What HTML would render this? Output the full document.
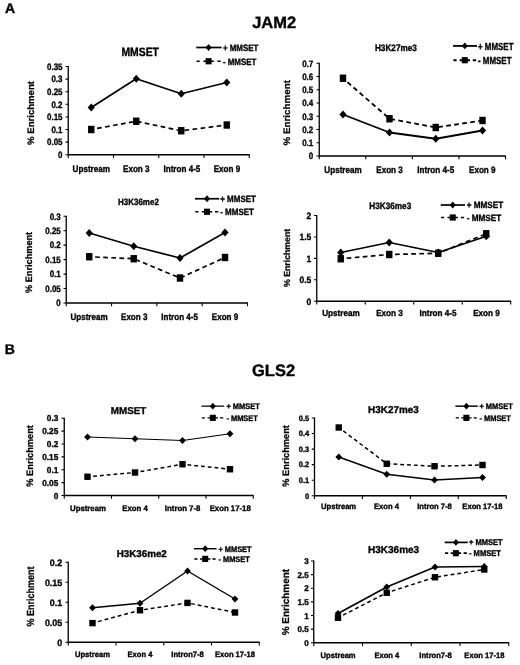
<!DOCTYPE html>
<html lang="en">
<head>
<meta charset="utf-8">
<title>Figure: JAM2 and GLS2 enrichment</title>
<style>
html,body{margin:0;padding:0;background:#fff;}
body{width:520px;height:665px;overflow:hidden;}
svg{display:block;opacity:.999;will-change:transform;}
.t{font-family:"Liberation Sans", Arial, Helvetica, sans-serif;font-weight:bold;fill:#000;text-rendering:geometricPrecision;stroke:#000;stroke-width:.35px;stroke-linejoin:round;}
.y{stroke-width:.25px;}
.ax{fill:none;stroke:#000;stroke-width:1.3;}
.tk{fill:none;stroke:#000;stroke-width:1.1;}
.ln{fill:none;stroke:#000;stroke-linejoin:round;}
</style>
</head>
<body>
<svg width="520" height="665" viewBox="0 0 520 665">
<rect width="520" height="665" fill="#fff"/>
<text class="t" font-size="14" x="4.9" y="12.5">A</text>
<text class="t" font-size="14" x="4.8" y="353.9">B</text>
<text class="t" font-size="16.5" x="252.2" y="28.1">JAM2</text>
<text class="t" font-size="16.5" x="252.0" y="376.2">GLS2</text>
<g id="c1">
<path class="ax" d="M68.25,66.1 V154.75 H249.65"/>
<path class="tk" d="M65.50,154.75 H68.25 M65.50,142.14 H68.25 M65.50,129.54 H68.25 M65.50,116.93 H68.25 M65.50,104.32 H68.25 M65.50,91.71 H68.25 M65.50,79.11 H68.25 M65.50,66.50 H68.25 M68.25,154.75 V158.05 M113.50,154.75 V158.05 M158.75,154.75 V158.05 M204.00,154.75 V158.05 M249.25,154.75 V158.05"/>
<text class="t" font-size="9.24" text-anchor="end" transform="translate(62.50,158.06) scale(0.86,1)">0</text>
<text class="t" font-size="9.24" text-anchor="end" transform="translate(62.50,145.45) scale(0.86,1)">0.05</text>
<text class="t" font-size="9.24" text-anchor="end" transform="translate(62.50,132.85) scale(0.86,1)">0.1</text>
<text class="t" font-size="9.24" text-anchor="end" transform="translate(62.50,120.24) scale(0.86,1)">0.15</text>
<text class="t" font-size="9.24" text-anchor="end" transform="translate(62.50,107.63) scale(0.86,1)">0.2</text>
<text class="t" font-size="9.24" text-anchor="end" transform="translate(62.50,95.02) scale(0.86,1)">0.25</text>
<text class="t" font-size="9.24" text-anchor="end" transform="translate(62.50,82.42) scale(0.86,1)">0.3</text>
<text class="t" font-size="9.24" text-anchor="end" transform="translate(62.50,69.81) scale(0.86,1)">0.35</text>
<text class="t y" font-size="9.4" text-anchor="middle" transform="translate(34.37,113) rotate(-90) scale(1.021,1)">% Enrichment</text>
<text class="t" font-size="9.42" text-anchor="middle" transform="translate(91.25,172.00) scale(0.86,1)">Upstream</text>
<text class="t" font-size="9.42" text-anchor="middle" transform="translate(136.25,172.00) scale(0.86,1)">Exon 3</text>
<text class="t" font-size="9.42" text-anchor="middle" transform="translate(181.90,172.00) scale(0.86,1)">Intron 4-5</text>
<text class="t" font-size="9.42" text-anchor="middle" transform="translate(226.90,172.00) scale(0.86,1)">Exon 9</text>
<text class="t" font-size="11.95" text-anchor="middle" transform="translate(140.20,55.70) scale(0.87,1)">MMSET</text>
<polyline class="ln" stroke-width="1.7" stroke-dasharray="4.7 3.4" stroke-dashoffset="2.2" points="91.25,129.5 136.25,121.25 181.25,130.75 226.75,125"/>
<polyline class="ln" stroke-width="1.7" points="91.25,107.5 136.25,78.75 181.25,93.75 226.75,82.5"/>
<rect x="88.05" y="125.80" width="6.4" height="7.4"/>
<rect x="133.05" y="117.55" width="6.4" height="7.4"/>
<rect x="178.05" y="127.05" width="6.4" height="7.4"/>
<rect x="223.55" y="121.30" width="6.4" height="7.4"/>
<polygon points="91.25,103.40 94.85,107.50 91.25,111.60 87.65,107.50"/>
<polygon points="136.25,74.65 139.85,78.75 136.25,82.85 132.65,78.75"/>
<polygon points="181.25,89.65 184.85,93.75 181.25,97.85 177.65,93.75"/>
<polygon points="226.75,78.40 230.35,82.50 226.75,86.60 223.15,82.50"/>
<path class="ln" stroke-width="1.7" d="M196.25,47.5 H221.6"/>
<path class="ln" stroke-width="1.7" d="M196.55,61.25 h3.2 M203.40,61.25 h10.4 M217.40,61.25 h3.3"/>
<polygon points="208.60,44.10 211.60,47.50 208.60,50.90 205.60,47.50"/>
<rect x="205.60" y="58.15" width="6.0" height="6.2"/>
<text class="t" font-size="9.24" text-anchor="start" transform="translate(222.90,50.81) scale(0.86,1)">+ MMSET</text>
<text class="t" font-size="9.24" text-anchor="start" transform="translate(222.90,64.56) scale(0.86,1)">- MMSET</text>
</g>
<g id="c2">
<path class="ax" d="M319.25,62.85 V156 H505.9"/>
<path class="tk" d="M316.50,156.00 H319.25 M316.50,142.75 H319.25 M316.50,129.50 H319.25 M316.50,116.25 H319.25 M316.50,103.00 H319.25 M316.50,89.75 H319.25 M316.50,76.50 H319.25 M316.50,63.25 H319.25 M319.25,156.00 V159.30 M365.81,156.00 V159.30 M412.38,156.00 V159.30 M458.94,156.00 V159.30 M505.50,156.00 V159.30"/>
<text class="t" font-size="9.24" text-anchor="end" transform="translate(313.25,159.31) scale(0.86,1)">0</text>
<text class="t" font-size="9.24" text-anchor="end" transform="translate(313.25,146.06) scale(0.86,1)">0.1</text>
<text class="t" font-size="9.24" text-anchor="end" transform="translate(313.25,132.81) scale(0.86,1)">0.2</text>
<text class="t" font-size="9.24" text-anchor="end" transform="translate(313.25,119.56) scale(0.86,1)">0.3</text>
<text class="t" font-size="9.24" text-anchor="end" transform="translate(313.25,106.31) scale(0.86,1)">0.4</text>
<text class="t" font-size="9.24" text-anchor="end" transform="translate(313.25,93.06) scale(0.86,1)">0.5</text>
<text class="t" font-size="9.24" text-anchor="end" transform="translate(313.25,79.81) scale(0.86,1)">0.6</text>
<text class="t" font-size="9.24" text-anchor="end" transform="translate(313.25,66.56) scale(0.86,1)">0.7</text>
<text class="t y" font-size="9.4" text-anchor="middle" transform="translate(290.37,112.75) rotate(-90) scale(1.045,1)">% Enrichment</text>
<text class="t" font-size="9.42" text-anchor="middle" transform="translate(343.00,173.25) scale(0.86,1)">Upstream</text>
<text class="t" font-size="9.42" text-anchor="middle" transform="translate(389.50,173.25) scale(0.86,1)">Exon 3</text>
<text class="t" font-size="9.42" text-anchor="middle" transform="translate(435.75,173.25) scale(0.86,1)">Intron 4-5</text>
<text class="t" font-size="9.42" text-anchor="middle" transform="translate(482.25,173.25) scale(0.86,1)">Exon 9</text>
<text class="t" font-size="9.43" text-anchor="middle" transform="translate(395.90,51.25) scale(0.87,1)">H3K27me3</text>
<polyline class="ln" stroke-width="1.85" stroke-dasharray="4.7 3.4" stroke-dashoffset="2.2" points="343,78.25 389.5,118.75 435.75,127.5 482.5,120.5"/>
<polyline class="ln" stroke-width="1.85" points="343,114.5 389.5,132.5 435.75,138.75 482.5,130.5"/>
<rect x="339.80" y="74.55" width="6.4" height="7.4"/>
<rect x="386.30" y="115.05" width="6.4" height="7.4"/>
<rect x="432.55" y="123.80" width="6.4" height="7.4"/>
<rect x="479.30" y="116.80" width="6.4" height="7.4"/>
<polygon points="343.00,110.40 346.60,114.50 343.00,118.60 339.40,114.50"/>
<polygon points="389.50,128.40 393.10,132.50 389.50,136.60 385.90,132.50"/>
<polygon points="435.75,134.65 439.35,138.75 435.75,142.85 432.15,138.75"/>
<polygon points="482.50,126.40 486.10,130.50 482.50,134.60 478.90,130.50"/>
<path class="ln" stroke-width="1.85" d="M453.1,45.9 H477.0"/>
<path class="ln" stroke-width="1.85" d="M453.40,60.2 h3.2 M459.60,60.2 h10.4 M472.80,60.2 h3.3"/>
<polygon points="464.80,42.50 467.80,45.90 464.80,49.30 461.80,45.90"/>
<rect x="461.80" y="57.10" width="6.0" height="6.2"/>
<text class="t" font-size="10.19" text-anchor="start" transform="translate(478.00,49.55) scale(0.78,1)">+ MMSET</text>
<text class="t" font-size="10.19" text-anchor="start" transform="translate(478.00,63.85) scale(0.78,1)">- MMSET</text>
</g>
<g id="c3">
<path class="ax" d="M66.25,215.85 V303 H247.9"/>
<path class="tk" d="M63.50,303.00 H66.25 M63.50,288.54 H66.25 M63.50,274.08 H66.25 M63.50,259.62 H66.25 M63.50,245.17 H66.25 M63.50,230.71 H66.25 M63.50,216.25 H66.25 M66.25,303.00 V306.30 M111.56,303.00 V306.30 M156.88,303.00 V306.30 M202.19,303.00 V306.30 M247.50,303.00 V306.30"/>
<text class="t" font-size="9.24" text-anchor="end" transform="translate(60.75,306.31) scale(0.86,1)">0</text>
<text class="t" font-size="9.24" text-anchor="end" transform="translate(60.75,291.85) scale(0.86,1)">0.05</text>
<text class="t" font-size="9.24" text-anchor="end" transform="translate(60.75,277.39) scale(0.86,1)">0.1</text>
<text class="t" font-size="9.24" text-anchor="end" transform="translate(60.75,262.93) scale(0.86,1)">0.15</text>
<text class="t" font-size="9.24" text-anchor="end" transform="translate(60.75,248.48) scale(0.86,1)">0.2</text>
<text class="t" font-size="9.24" text-anchor="end" transform="translate(60.75,234.02) scale(0.86,1)">0.25</text>
<text class="t" font-size="9.24" text-anchor="end" transform="translate(60.75,219.56) scale(0.86,1)">0.3</text>
<text class="t y" font-size="9.4" text-anchor="middle" transform="translate(32.12,262.4) rotate(-90) scale(0.977,1)">% Enrichment</text>
<text class="t" font-size="9.36" text-anchor="middle" transform="translate(89.00,319.50) scale(0.86,1)">Upstream</text>
<text class="t" font-size="9.36" text-anchor="middle" transform="translate(134.20,319.50) scale(0.86,1)">Exon 3</text>
<text class="t" font-size="9.36" text-anchor="middle" transform="translate(179.60,319.50) scale(0.86,1)">Intron 4-5</text>
<text class="t" font-size="9.36" text-anchor="middle" transform="translate(225.00,319.50) scale(0.86,1)">Exon 9</text>
<text class="t" font-size="9.20" text-anchor="middle" transform="translate(138.40,205.00) scale(0.87,1)">H3K36me2</text>
<polyline class="ln" stroke-width="1.7" stroke-dasharray="4.7 3.4" stroke-dashoffset="2.2" points="89.25,256.75 133.75,258.75 180,278 225,257.5"/>
<polyline class="ln" stroke-width="1.7" points="89.25,233 133.75,246.25 180,258 225,232.5"/>
<rect x="86.05" y="253.05" width="6.4" height="7.4"/>
<rect x="130.55" y="255.05" width="6.4" height="7.4"/>
<rect x="176.80" y="274.30" width="6.4" height="7.4"/>
<rect x="221.80" y="253.80" width="6.4" height="7.4"/>
<polygon points="89.25,228.90 92.85,233.00 89.25,237.10 85.65,233.00"/>
<polygon points="133.75,242.15 137.35,246.25 133.75,250.35 130.15,246.25"/>
<polygon points="180.00,253.90 183.60,258.00 180.00,262.10 176.40,258.00"/>
<polygon points="225.00,228.40 228.60,232.50 225.00,236.60 221.40,232.50"/>
<path class="ln" stroke-width="1.7" d="M195,198.75 H219.25"/>
<path class="ln" stroke-width="1.7" d="M195.30,211.75 h3.2 M201.80,211.75 h10.4 M215.05,211.75 h3.3"/>
<polygon points="207.00,195.35 210.00,198.75 207.00,202.15 204.00,198.75"/>
<rect x="204.00" y="208.65" width="6.0" height="6.2"/>
<text class="t" font-size="9.09" text-anchor="start" transform="translate(220.20,202.00) scale(0.88,1)">+ MMSET</text>
<text class="t" font-size="9.09" text-anchor="start" transform="translate(220.20,215.00) scale(0.88,1)">- MMSET</text>
</g>
<g id="c4">
<path class="ax" d="M316.75,215.1 V301.25 H511.15"/>
<path class="tk" d="M314.00,301.25 H316.75 M314.00,279.81 H316.75 M314.00,258.38 H316.75 M314.00,236.94 H316.75 M314.00,215.50 H316.75 M316.75,301.25 V304.55 M365.25,301.25 V304.55 M413.75,301.25 V304.55 M462.25,301.25 V304.55 M510.75,301.25 V304.55"/>
<text class="t" font-size="9.24" text-anchor="end" transform="translate(311.25,304.56) scale(0.92,1)">0</text>
<text class="t" font-size="9.24" text-anchor="end" transform="translate(311.25,283.12) scale(0.92,1)">0.5</text>
<text class="t" font-size="9.24" text-anchor="end" transform="translate(311.25,261.68) scale(0.92,1)">1</text>
<text class="t" font-size="9.24" text-anchor="end" transform="translate(311.25,240.25) scale(0.92,1)">1.5</text>
<text class="t" font-size="9.24" text-anchor="end" transform="translate(311.25,218.81) scale(0.92,1)">2</text>
<text class="t y" font-size="8.8" text-anchor="middle" transform="translate(290.15,257.9) rotate(-90) scale(0.993,1)">% Enrichment</text>
<text class="t" font-size="8.86" text-anchor="middle" transform="translate(341.00,316.25) scale(0.92,1)">Upstream</text>
<text class="t" font-size="8.86" text-anchor="middle" transform="translate(389.50,316.25) scale(0.92,1)">Exon 3</text>
<text class="t" font-size="8.86" text-anchor="middle" transform="translate(438.00,316.25) scale(0.92,1)">Intron 4-5</text>
<text class="t" font-size="8.86" text-anchor="middle" transform="translate(486.50,316.25) scale(0.92,1)">Exon 9</text>
<text class="t" font-size="9.43" text-anchor="middle" transform="translate(390.25,209.25) scale(0.87,1)">H3K36me3</text>
<polyline class="ln" stroke-width="1.7" stroke-dasharray="4.7 3.4" stroke-dashoffset="2.2" points="340.75,258.75 389.25,254.5 438.25,253.25 486.25,233.75"/>
<polyline class="ln" stroke-width="1.7" points="340.75,252.5 389.25,242.5 438.25,252.5 486.25,236.25"/>
<rect x="337.55" y="255.05" width="6.4" height="7.4"/>
<rect x="386.05" y="250.80" width="6.4" height="7.4"/>
<rect x="435.05" y="249.55" width="6.4" height="7.4"/>
<rect x="483.05" y="230.05" width="6.4" height="7.4"/>
<polygon points="340.75,248.40 344.35,252.50 340.75,256.60 337.15,252.50"/>
<polygon points="389.25,238.40 392.85,242.50 389.25,246.60 385.65,242.50"/>
<polygon points="438.25,248.40 441.85,252.50 438.25,256.60 434.65,252.50"/>
<polygon points="486.25,232.15 489.85,236.25 486.25,240.35 482.65,236.25"/>
<path class="ln" stroke-width="1.7" d="M440.75,205 H465"/>
<path class="ln" stroke-width="1.7" d="M441.05,217.5 h3.2 M447.55,217.5 h10.4 M460.80,217.5 h3.3"/>
<polygon points="452.75,201.60 455.75,205.00 452.75,208.40 449.75,205.00"/>
<rect x="449.75" y="214.40" width="6.0" height="6.2"/>
<text class="t" font-size="9.06" text-anchor="start" transform="translate(466.75,208.24) scale(0.9,1)">+ MMSET</text>
<text class="t" font-size="9.06" text-anchor="start" transform="translate(466.75,220.74) scale(0.9,1)">- MMSET</text>
</g>
<g id="c5">
<path class="ax" d="M64.25,417.85 V495.5 H253.65"/>
<path class="tk" d="M61.50,495.50 H64.25 M61.50,482.62 H64.25 M61.50,469.75 H64.25 M61.50,456.88 H64.25 M61.50,444.00 H64.25 M61.50,431.12 H64.25 M61.50,418.25 H64.25 M64.25,495.50 V498.80 M111.50,495.50 V498.80 M158.75,495.50 V498.80 M206.00,495.50 V498.80 M253.25,495.50 V498.80"/>
<text class="t" font-size="8.65" text-anchor="end" transform="translate(58.30,498.60) scale(0.96,1)">0</text>
<text class="t" font-size="8.65" text-anchor="end" transform="translate(58.30,485.72) scale(0.96,1)">0.05</text>
<text class="t" font-size="8.65" text-anchor="end" transform="translate(58.30,472.85) scale(0.96,1)">0.1</text>
<text class="t" font-size="8.65" text-anchor="end" transform="translate(58.30,459.97) scale(0.96,1)">0.15</text>
<text class="t" font-size="8.65" text-anchor="end" transform="translate(58.30,447.10) scale(0.96,1)">0.2</text>
<text class="t" font-size="8.65" text-anchor="end" transform="translate(58.30,434.22) scale(0.96,1)">0.25</text>
<text class="t" font-size="8.65" text-anchor="end" transform="translate(58.30,421.35) scale(0.96,1)">0.3</text>
<text class="t y" font-size="9.4" text-anchor="middle" transform="translate(33.37,455.9) rotate(-90) scale(0.985,1)">% Enrichment</text>
<text class="t" font-size="8.12" text-anchor="middle" transform="translate(88.00,510.75) scale(0.96,1)">Upstream</text>
<text class="t" font-size="8.12" text-anchor="middle" transform="translate(135.00,510.75) scale(0.96,1)">Exon 4</text>
<text class="t" font-size="8.12" text-anchor="middle" transform="translate(182.60,510.75) scale(0.96,1)">Intron 7-8</text>
<text class="t" font-size="8.12" text-anchor="middle" transform="translate(230.20,510.75) scale(0.96,1)">Exon 17-18</text>
<text class="t" font-size="9.90" text-anchor="middle" transform="translate(128.50,413.75) scale(0.99,1)">MMSET</text>
<polyline class="ln" stroke-width="1.5" stroke-dasharray="3.8 3.0" stroke-dashoffset="1.1" points="87.5,476.75 135,472.5 182.5,464.25 230,469.25"/>
<polyline class="ln" stroke-width="1.25" points="87.5,437 135,438.75 182.5,440.5 230,433.75"/>
<rect x="84.30" y="473.55" width="6.4" height="6.4"/>
<rect x="131.80" y="469.30" width="6.4" height="6.4"/>
<rect x="179.30" y="461.05" width="6.4" height="6.4"/>
<rect x="226.80" y="466.05" width="6.4" height="6.4"/>
<polygon points="87.50,433.45 90.90,437.00 87.50,440.55 84.10,437.00"/>
<polygon points="135.00,435.20 138.40,438.75 135.00,442.30 131.60,438.75"/>
<polygon points="182.50,436.95 185.90,440.50 182.50,444.05 179.10,440.50"/>
<polygon points="230.00,430.20 233.40,433.75 230.00,437.30 226.60,433.75"/>
<path class="ln" stroke-width="1.25" d="M201.4,406.15 H224.2"/>
<path class="ln" stroke-width="1.4" d="M201.70,417.85 h3.2 M207.60,417.85 h10.4 M220.00,417.85 h3.3"/>
<polygon points="212.80,402.75 215.80,406.15 212.80,409.55 209.80,406.15"/>
<rect x="209.80" y="414.75" width="6.0" height="6.2"/>
<text class="t" font-size="8.10" text-anchor="start" transform="translate(226.40,409.05) scale(0.92,1)">+ MMSET</text>
<text class="t" font-size="8.10" text-anchor="start" transform="translate(226.40,420.75) scale(0.92,1)">- MMSET</text>
</g>
<g id="c6">
<path class="ax" d="M314.5,417.6 V495.75 H506.65"/>
<path class="tk" d="M311.75,495.75 H314.50 M311.75,480.20 H314.50 M311.75,464.65 H314.50 M311.75,449.10 H314.50 M311.75,433.55 H314.50 M311.75,418.00 H314.50 M314.50,495.75 V499.05 M362.44,495.75 V499.05 M410.38,495.75 V499.05 M458.31,495.75 V499.05 M506.25,495.75 V499.05"/>
<text class="t" font-size="7.81" text-anchor="end" transform="translate(309.25,498.55) scale(0.96,1)">0</text>
<text class="t" font-size="7.81" text-anchor="end" transform="translate(309.25,483.00) scale(0.96,1)">0.1</text>
<text class="t" font-size="7.81" text-anchor="end" transform="translate(309.25,467.45) scale(0.96,1)">0.2</text>
<text class="t" font-size="7.81" text-anchor="end" transform="translate(309.25,451.90) scale(0.96,1)">0.3</text>
<text class="t" font-size="7.81" text-anchor="end" transform="translate(309.25,436.35) scale(0.96,1)">0.4</text>
<text class="t" font-size="7.81" text-anchor="end" transform="translate(309.25,420.80) scale(0.96,1)">0.5</text>
<text class="t y" font-size="9.4" text-anchor="middle" transform="translate(289.12,455.9) rotate(-90) scale(0.985,1)">% Enrichment</text>
<text class="t" font-size="7.92" text-anchor="middle" transform="translate(338.60,509.40) scale(0.96,1)">Upstream</text>
<text class="t" font-size="7.92" text-anchor="middle" transform="translate(386.50,509.40) scale(0.96,1)">Exon 4</text>
<text class="t" font-size="7.92" text-anchor="middle" transform="translate(434.50,509.40) scale(0.96,1)">Intron 7-8</text>
<text class="t" font-size="7.92" text-anchor="middle" transform="translate(482.40,509.40) scale(0.96,1)">Exon 17-18</text>
<text class="t" font-size="10.00" text-anchor="middle" transform="translate(393.40,413.00) scale(0.99,1)">H3K27me3</text>
<polyline class="ln" stroke-width="1.5" stroke-dasharray="3.8 3.0" stroke-dashoffset="1.1" points="338.75,427.5 386.75,463.75 434.5,466.25 482.5,465"/>
<polyline class="ln" stroke-width="1.45" points="338.75,457 386.75,474.25 434.5,480 482.5,477.5"/>
<rect x="335.55" y="424.30" width="6.4" height="6.4"/>
<rect x="383.55" y="460.55" width="6.4" height="6.4"/>
<rect x="431.30" y="463.05" width="6.4" height="6.4"/>
<rect x="479.30" y="461.80" width="6.4" height="6.4"/>
<polygon points="338.75,453.45 342.15,457.00 338.75,460.55 335.35,457.00"/>
<polygon points="386.75,470.70 390.15,474.25 386.75,477.80 383.35,474.25"/>
<polygon points="434.50,476.45 437.90,480.00 434.50,483.55 431.10,480.00"/>
<polygon points="482.50,473.95 485.90,477.50 482.50,481.05 479.10,477.50"/>
<path class="ln" stroke-width="1.45" d="M455.4,406.15 H477.8"/>
<path class="ln" stroke-width="1.45" d="M455.70,417.85 h3.2 M461.20,417.85 h10.4 M473.60,417.85 h3.3"/>
<polygon points="466.40,402.75 469.40,406.15 466.40,409.55 463.40,406.15"/>
<rect x="463.40" y="414.75" width="6.0" height="6.2"/>
<text class="t" font-size="8.10" text-anchor="start" transform="translate(479.45,409.05) scale(0.92,1)">+ MMSET</text>
<text class="t" font-size="8.10" text-anchor="start" transform="translate(479.45,420.75) scale(0.92,1)">- MMSET</text>
</g>
<g id="c7">
<path class="ax" d="M68.25,561.85 V642.25 H259.65"/>
<path class="tk" d="M65.50,642.25 H68.25 M65.50,622.25 H68.25 M65.50,602.25 H68.25 M65.50,582.25 H68.25 M65.50,562.25 H68.25 M68.25,642.25 V645.55 M116.00,642.25 V645.55 M163.75,642.25 V645.55 M211.50,642.25 V645.55 M259.25,642.25 V645.55"/>
<text class="t" font-size="9.27" text-anchor="end" transform="translate(62.20,645.57) scale(0.96,1)">0</text>
<text class="t" font-size="9.27" text-anchor="end" transform="translate(62.20,625.57) scale(0.96,1)">0.05</text>
<text class="t" font-size="9.27" text-anchor="end" transform="translate(62.20,605.57) scale(0.96,1)">0.1</text>
<text class="t" font-size="9.27" text-anchor="end" transform="translate(62.20,585.57) scale(0.96,1)">0.15</text>
<text class="t" font-size="9.27" text-anchor="end" transform="translate(62.20,565.57) scale(0.96,1)">0.2</text>
<text class="t y" font-size="10.3" text-anchor="middle" transform="translate(34.44,596.5) rotate(-90) scale(0.874,1)">% Enrichment</text>
<text class="t" font-size="7.92" text-anchor="middle" transform="translate(92.50,656.50) scale(0.96,1)">Upstream</text>
<text class="t" font-size="7.92" text-anchor="middle" transform="translate(140.00,656.50) scale(0.96,1)">Exon 4</text>
<text class="t" font-size="7.92" text-anchor="middle" transform="translate(187.50,656.50) scale(0.96,1)">Intron7-8</text>
<text class="t" font-size="7.92" text-anchor="middle" transform="translate(235.00,656.50) scale(0.96,1)">Exon 17-18</text>
<text class="t" font-size="9.90" text-anchor="middle" transform="translate(141.75,556.50) scale(0.99,1)">H3K36me2</text>
<polyline class="ln" stroke-width="1.5" stroke-dasharray="3.8 3.0" stroke-dashoffset="1.1" points="92.5,623.1 140,610.25 187.5,602.9 235,612.5"/>
<polyline class="ln" stroke-width="1.45" points="92.5,607.75 140,603.25 187.5,571 235,599"/>
<rect x="89.30" y="619.90" width="6.4" height="6.4"/>
<rect x="136.80" y="607.05" width="6.4" height="6.4"/>
<rect x="184.30" y="599.70" width="6.4" height="6.4"/>
<rect x="231.80" y="609.30" width="6.4" height="6.4"/>
<polygon points="92.50,604.20 95.90,607.75 92.50,611.30 89.10,607.75"/>
<polygon points="140.00,599.70 143.40,603.25 140.00,606.80 136.60,603.25"/>
<polygon points="187.50,567.45 190.90,571.00 187.50,574.55 184.10,571.00"/>
<polygon points="235.00,595.45 238.40,599.00 235.00,602.55 231.60,599.00"/>
<path class="ln" stroke-width="1.45" d="M194,548.7 H216.6"/>
<path class="ln" stroke-width="1.45" d="M194.30,558.9 h3.2 M200.00,558.9 h10.4 M212.40,558.9 h3.3"/>
<polygon points="205.20,545.30 208.20,548.70 205.20,552.10 202.20,548.70"/>
<rect x="202.20" y="555.80" width="6.0" height="6.2"/>
<text class="t" font-size="8.04" text-anchor="start" transform="translate(218.50,551.58) scale(0.92,1)">+ MMSET</text>
<text class="t" font-size="8.04" text-anchor="start" transform="translate(218.50,561.78) scale(0.92,1)">- MMSET</text>
</g>
<g id="c8">
<path class="ax" d="M313.75,560.6 V642.75 H509.15"/>
<path class="tk" d="M311.00,642.75 H313.75 M311.00,629.12 H313.75 M311.00,615.50 H313.75 M311.00,601.88 H313.75 M311.00,588.25 H313.75 M311.00,574.62 H313.75 M311.00,561.00 H313.75 M313.75,642.75 V646.05 M362.50,642.75 V646.05 M411.25,642.75 V646.05 M460.00,642.75 V646.05 M508.75,642.75 V646.05"/>
<text class="t" font-size="8.44" text-anchor="end" transform="translate(308.75,645.77) scale(0.96,1)">0</text>
<text class="t" font-size="8.44" text-anchor="end" transform="translate(308.75,632.15) scale(0.96,1)">0.5</text>
<text class="t" font-size="8.44" text-anchor="end" transform="translate(308.75,618.52) scale(0.96,1)">1</text>
<text class="t" font-size="8.44" text-anchor="end" transform="translate(308.75,604.90) scale(0.96,1)">1.5</text>
<text class="t" font-size="8.44" text-anchor="end" transform="translate(308.75,591.27) scale(0.96,1)">2</text>
<text class="t" font-size="8.44" text-anchor="end" transform="translate(308.75,577.65) scale(0.96,1)">2.5</text>
<text class="t" font-size="8.44" text-anchor="end" transform="translate(308.75,564.02) scale(0.96,1)">3</text>
<text class="t y" font-size="10.0" text-anchor="middle" transform="translate(288.98,602.1) rotate(-90) scale(0.994,1)">% Enrichment</text>
<text class="t" font-size="7.92" text-anchor="middle" transform="translate(338.10,657.75) scale(0.96,1)">Upstream</text>
<text class="t" font-size="7.92" text-anchor="middle" transform="translate(386.90,657.75) scale(0.96,1)">Exon 4</text>
<text class="t" font-size="7.92" text-anchor="middle" transform="translate(435.60,657.75) scale(0.96,1)">Intron7-8</text>
<text class="t" font-size="7.92" text-anchor="middle" transform="translate(484.40,657.75) scale(0.96,1)">Exon 17-18</text>
<text class="t" font-size="10.10" text-anchor="middle" transform="translate(393.60,552.75) scale(0.99,1)">H3K36me3</text>
<polyline class="ln" stroke-width="1.5" stroke-dasharray="3.8 3.0" stroke-dashoffset="1.1" points="338,617.75 386.75,592.75 435,577.25 484.25,569.5"/>
<polyline class="ln" stroke-width="1.7" points="338,613.5 386.75,587 435,567 484.25,566.5"/>
<rect x="334.80" y="614.55" width="6.4" height="6.4"/>
<rect x="383.55" y="589.55" width="6.4" height="6.4"/>
<rect x="431.80" y="574.05" width="6.4" height="6.4"/>
<rect x="481.05" y="566.30" width="6.4" height="6.4"/>
<polygon points="338.00,609.95 341.40,613.50 338.00,617.05 334.60,613.50"/>
<polygon points="386.75,583.45 390.15,587.00 386.75,590.55 383.35,587.00"/>
<polygon points="435.00,563.45 438.40,567.00 435.00,570.55 431.60,567.00"/>
<polygon points="484.25,562.95 487.65,566.50 484.25,570.05 480.85,566.50"/>
<path class="ln" stroke-width="1.7" d="M444.7,542.4 H467.8"/>
<path class="ln" stroke-width="1.7" d="M445.00,553.2 h3.2 M450.70,553.2 h10.4 M463.60,553.2 h3.3"/>
<polygon points="455.90,539.00 458.90,542.40 455.90,545.80 452.90,542.40"/>
<rect x="452.90" y="550.10" width="6.0" height="6.2"/>
<text class="t" font-size="8.39" text-anchor="start" transform="translate(469.00,545.40) scale(0.9,1)">+ MMSET</text>
<text class="t" font-size="8.39" text-anchor="start" transform="translate(469.00,556.20) scale(0.9,1)">- MMSET</text>
</g>
</svg>
</body>
</html>
